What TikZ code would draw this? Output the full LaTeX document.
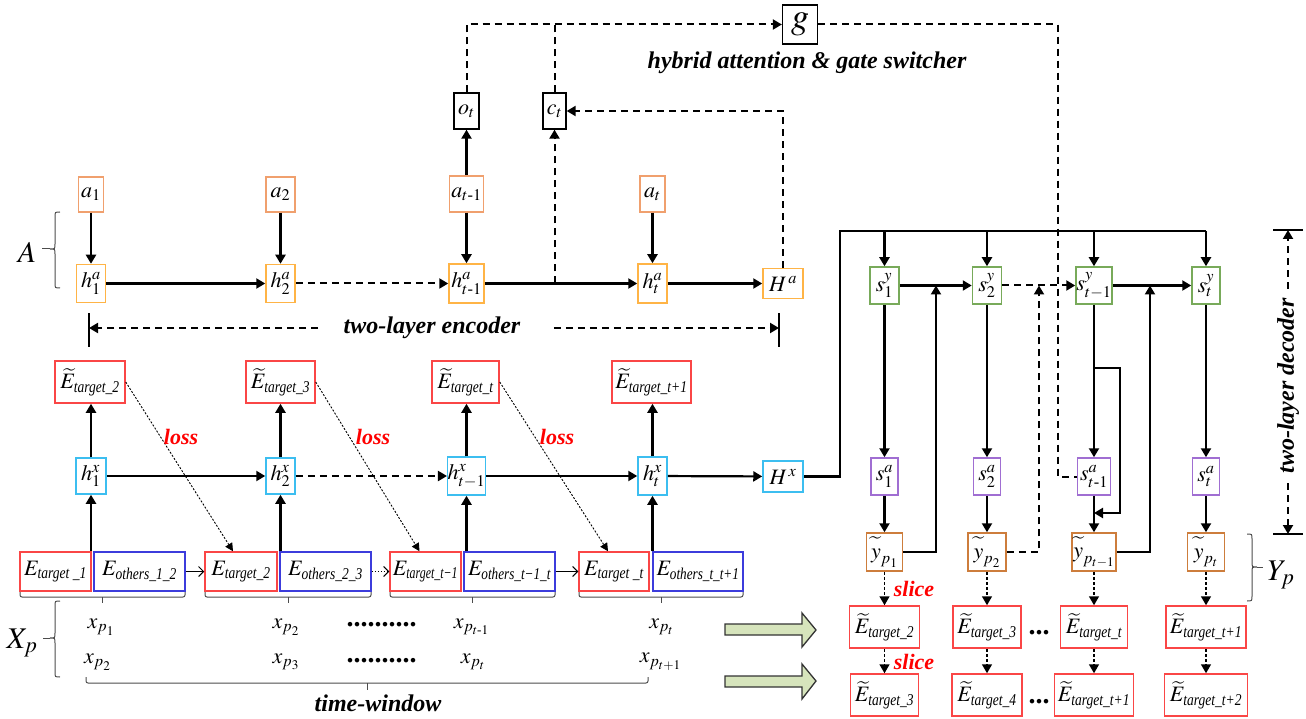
\documentclass[tikz,border=0pt]{standalone}
\usepackage{amsmath}
\usepackage{mathptmx}
\usepackage[no-math]{fontspec}
\setmainfont{Liberation Serif}
\usetikzlibrary{arrows.meta}
\definecolor{cA}{RGB}{240,160,110}
\definecolor{cH}{RGB}{255,180,70}
\definecolor{cX}{RGB}{60,190,240}
\definecolor{cR}{RGB}{250,70,70}
\definecolor{cB}{RGB}{60,60,220}
\definecolor{cSy}{RGB}{120,170,90}
\definecolor{cSa}{RGB}{160,110,210}
\definecolor{cY}{RGB}{205,125,60}
\definecolor{cG}{RGB}{214,228,188}
\definecolor{lossred}{RGB}{255,0,0}
\newcommand\nfont{\fontsize{22}{26}\selectfont}
\newcommand\gfont{\fontsize{36}{40}\selectfont}
\newcommand\bigfont{\fontsize{30}{34}\selectfont}
\newcommand\lfont{\fontsize{24}{28}\selectfont\bfseries\itshape}
\newcommand\rfont{\fontsize{22}{26}\selectfont\bfseries\itshape}
\newcommand\dfont{\fontsize{28}{30}\selectfont\bfseries}
\newcommand\tsub[2][0.82]{\text{\fontsize{16.5}{17}\selectfont\itshape\scalebox{#1}[1]{#2}}}
\newcommand\ty{\widetilde{y\vphantom{h}}}
\begin{document}
\begin{tikzpicture}[x=1pt,y=-1pt,
  bx/.style={draw,line width=1.5pt,inner sep=0pt,font=\nfont},
  abx/.style={bx,draw=cA},
  hbx/.style={bx,draw=cH},
  xbx/.style={bx,draw=cX},
  rbx/.style={bx,draw=cR},
  bbx/.style={bx,draw=cB},
  sybx/.style={bx,draw=cSy},
  sabx/.style={bx,draw=cSa},
  ybx/.style={bx,draw=cY},
  kbx/.style={bx,draw=black,line width=1.3pt},
  sz/.style 2 args={minimum width=#1pt,minimum height=#2pt},
  ln/.style={line width=2.2pt},
  arr/.style={ln,-{Triangle[length=9pt,width=10pt]}},
  dl/.style={line width=2pt,dash pattern=on 7pt off 5pt},
  darr/.style={dl,-{Triangle[length=9pt,width=10pt]}},
  lossarr/.style={line width=0.9pt,dash pattern=on 2pt off 1.6pt,-{Triangle[length=8pt,width=8pt]}},
  sarr/.style={line width=1.5pt,dash pattern=on 3pt off 2pt,-{Triangle[length=9pt,width=10pt]}},
  thinarr/.style={line width=1pt,-{Straight Barb[length=5pt,width=10pt]}},
  brc/.style={line width=1pt,draw=black!70},
  lab/.style={font=\lfont},
  redlab/.style={font=\rfont,text=lossred},
  mlab/.style={font=\nfont},
]
\useasboundingbox (0,0) rectangle (1306,719);

% ---------- top: gate ----------
\node[kbx,sz={35}{39},font=\gfont] (g) at (800,24.5) {$g$};
\node[lab] (hyb) at (807,63) {hybrid attention \& gate switcher};
\node[kbx,sz={25}{36}] (ot) at (466.5,111) {$o_t$};
\node[kbx,sz={23}{36}] (ct) at (554.5,111) {$c_t$};

% ---------- attention encoder ----------
\node[abx,sz={25}{35}] (a1) at (91,194.5) {$a_1$};
\node[abx,sz={29}{35}] (a2) at (280.5,194.5) {$a_2$};
\node[abx,sz={34}{36}] (a3) at (466.5,194) {$a_{t\text{-}1}$};
\node[abx,sz={25}{36}] (a4) at (652.5,194) {$a_t$};
\node[hbx,sz={29}{38}] (ha1) at (91,283.5) {$h^a_1$};
\node[hbx,sz={29}{38}] (ha2) at (280.5,283.5) {$h^a_2$};
\node[hbx,sz={35}{39}] (ha3) at (466.5,283.5) {$h^a_{t\text{-}1}$};
\node[hbx,sz={29}{39}] (ha4) at (652.5,283.5) {$h^a_t$};
\node[hbx,sz={40}{30}] (Ha) at (783,283.5) {$H^{\,a}$};

\draw[arr] (a1) -- (ha1);
\draw[arr] (a2) -- (ha2);
\draw[arr] (a3) -- (ha3);
\draw[arr] (a4) -- (ha4);
\draw[arr] (a3.north) -- (ot.south);
\draw[arr] (ha1) -- (ha2);
\draw[darr] (ha2) -- (ha3);
\draw[arr] (ha3) -- (ha4);
\draw[arr] (ha4) -- (Ha);
\coordinate (j1) at (554.5,283.5);
\draw[darr] (j1) -- (ct.south);
\draw[darr] (Ha.north) |- (ct.east);
\draw[darr] (ot.north) |- (g.west);
\draw[dl] (ct.north) -- (ct.north |- g.west);

% A brace
\node[font=\bigfont] (A) at (27,252) {$A$};
\draw[brc] (60,212) .. controls (55,212) .. (55,217) -- (55,244) .. controls (55,249) .. (50,249) .. controls (55,249) .. (55,254) -- (55,283) .. controls (55,288) .. (60,288);
\draw[brc] (50,249) -- (42,249);

% encoder bracket
\node[lab] (enc) at (432,328) {two-layer encoder};
\coordinate (eb1t) at (89,313); \coordinate (eb1b) at (89,347);
\coordinate (eb2t) at (779,313); \coordinate (eb2b) at (779,347);
\draw[ln] (eb1t) -- (eb1b);
\draw[ln] (eb2t) -- (eb2b);
\draw[darr] ([xshift=-22pt]enc.west) -- (eb1t |- enc.west);
\draw[darr] ([xshift=30pt]enc.east) -- (eb2t |- enc.east);

% ---------- input encoder ----------
\node[rbx,sz={70}{42}] (Ea1) at (90,382) {$\widetilde{E}_{\tsub{target\_2}}$};
\node[rbx,sz={69}{42}] (Ea2) at (280.5,382) {$\widetilde{E}_{\tsub{target\_3}}$};
\node[rbx,sz={67}{42}] (Ea3) at (465.5,382) {$\widetilde{E}_{\tsub{target\_t}}$};
\node[rbx,sz={79}{42}] (Ea4) at (651.5,382) {$\widetilde{E}_{\tsub{target\_t+1}}$};

\node[xbx,sz={30}{36}] (hx1) at (91,476) {$h^x_1$};
\node[xbx,sz={29}{36}] (hx2) at (280.5,476) {$h^x_2$};
\node[xbx,sz={37}{38}] (hx3) at (466.5,476) {$h^x_{t-1}$};
\node[xbx,sz={29}{38}] (hx4) at (652.5,476) {$h^x_t$};
\node[xbx,sz={40}{31}] (Hx) at (783,476.5) {$H^{\,x}$};

\node[rbx,sz={71}{39}] (T1) at (55.5,571.5) {$E_{\tsub{target \_1}}$};
\node[bbx,sz={91}{39}] (O1) at (139.5,571.5) {$E_{\tsub{others\_1\_2}}$};
\node[rbx,sz={72}{39}] (T2) at (241,571.5) {$E_{\tsub{target\_2}}$};
\node[bbx,sz={91}{39}] (O2) at (325.5,571.5) {$E_{\tsub{others\_2\_3}}$};
\node[rbx,sz={71}{39}] (T3) at (425.5,571.5) {$E_{\tsub[0.72]{target\_t−1}}$};
\node[bbx,sz={91}{39}] (O3) at (509.5,571.5) {$E_{\tsub[0.8]{others\_t−1\_t}}$};
\node[rbx,sz={70}{39}] (T4) at (614,571.5) {$E_{\tsub{target \_t}}$};
\node[bbx,sz={90}{39}] (O4) at (698,571.5) {$E_{\tsub[0.8]{others\_t\_t+1}}$};

\draw[arr] (hx1.north) -- (Ea1.south -| hx1.north);
\draw[arr] (hx2.north) -- (Ea2.south -| hx2.north);
\draw[arr] (hx3.north) -- (Ea3.south -| hx3.north);
\draw[arr] (hx4.north) -- (Ea4.south -| hx4.north);
\draw[arr] (hx1.south |- T1.north) -- (hx1.south);
\draw[arr] (hx2.south |- T2.north) -- (hx2.south);
\draw[arr] (hx3.south |- T3.north) -- (hx3.south);
\draw[arr] (hx4.south |- T4.north) -- (hx4.south);
\draw[arr] (hx1) -- (hx2);
\draw[darr] (hx2) -- (hx3);
\draw[arr] (hx3) -- (hx4);
\draw[arr] (hx4) -- (Hx);

\draw[lossarr] (Ea1.east) -- ([xshift=-8pt]T2.north);
\draw[lossarr] (Ea2.east) -- ([xshift=-6pt]T3.north);
\draw[lossarr] (Ea3.east) -- ([xshift=-6pt]T4.north);
\node[redlab] (l1) at (181,437) {loss};
\node[redlab] (l2) at (373,437) {loss};
\node[redlab] (l3) at (557,437) {loss};

\draw[thinarr] (O1.east) -- (T2.west);
\draw[thinarr,dash pattern=on 1.5pt off 1.5pt] (O2.east) -- (T3.west);
\draw[thinarr] (O3.east) -- (T4.west);

% pair braces
\draw[brc,rounded corners=2pt] (20,592) -- (20,597) -- (185,597) -- (185,592);
\draw[brc] (102.5,597) -- (102.5,603);
\draw[brc,rounded corners=2pt] (205,592) -- (205,597) -- (371,597) -- (371,592);
\draw[brc] (288,597) -- (288,603);
\draw[brc,rounded corners=2pt] (390,592) -- (390,597) -- (555,597) -- (555,592);
\draw[brc] (472.5,597) -- (472.5,603);
\draw[brc,rounded corners=2pt] (579,592) -- (579,597) -- (743,597) -- (743,592);
\draw[brc] (661,597) -- (661,603);

% x rows
\node[mlab] (x11) at (101,627) {$x_{p_1}$};
\node[mlab] (x12) at (286,627) {$x_{p_2}$};
\node[font=\dfont] (dd1) at (381.5,625) {..........};
\node[mlab] (x13) at (471.5,627) {$x_{p_{t\text{-}1}}$};
\node[mlab] (x14) at (661.5,627) {$x_{p_t}$};
\node[mlab] (x21) at (97.5,662) {$x_{p_2}$};
\node[mlab] (x22) at (286,662) {$x_{p_3}$};
\node[font=\dfont] (dd2) at (381.5,661) {..........};
\node[mlab] (x23) at (473,662) {$x_{p_t}$};
\node[mlab] (x24) at (660.5,662) {$x_{p_{t+1}}$};

\node[font=\bigfont] (Xp) at (22,643) {$X_p$};
\draw[brc] (60,601) .. controls (55,601) .. (55,606) -- (55,633) .. controls (55,638) .. (50,638) .. controls (55,638) .. (55,643) -- (55,672) .. controls (55,677) .. (60,677);
\draw[brc] (50,638) -- (43,638);

\draw[brc,rounded corners=2pt] (86,677) -- (86,683) -- (648,683) -- (648,677);
\draw[brc] (367,683) -- (367,690);
\node[lab] (tw) at (378,703) {time-window};

% green arrows
\draw[fill=cG,draw=black!80,line width=1.3pt] (725,624) -- (802,624) -- (802,613) -- (816,630) -- (802,647) -- (802,635) -- (725,635) -- cycle;
\draw[fill=cG,draw=black!80,line width=1.3pt] (725,676) -- (802,676) -- (802,664) -- (816,681) -- (802,699) -- (802,687) -- (725,687) -- cycle;

% ---------- decoder ----------
\node[sybx,sz={29}{37}] (sy1) at (884.5,285.5) {$s^y_1$};
\node[sybx,sz={29}{37}] (sy2) at (987,285.5) {$s^y_2$};
\node[sybx,sz={36}{37}] (sy3) at (1094,285.5) {$s^y_{t-1}$};
\node[sybx,sz={28}{37}] (sy4) at (1206,285.5) {$s^y_t$};

\node[sabx,sz={27}{37}] (sa1) at (884.5,476.5) {$s^a_1$};
\node[sabx,sz={27}{37}] (sa2) at (987,476.5) {$s^a_2$};
\node[sabx,sz={33}{37}] (sa3) at (1094,476.5) {$s^a_{t\text{-}1}$};
\node[sabx,sz={27}{37}] (sa4) at (1206,476.5) {$s^a_t$};

\node[ybx,sz={36}{38}] (yp1) at (884.5,552) {$\ty_{p_1}$};
\node[ybx,sz={38}{38}] (yp2) at (987,552) {$\ty_{p_2}$};
\node[ybx,sz={44}{38}] (yp3) at (1094,552) {$\ty_{p_{t-1}}$};
\node[ybx,sz={37}{38}] (yp4) at (1206,552) {$\ty_{p_t}$};

\node[rbx,sz={70}{42}] (R1) at (884.5,627) {$\widetilde{E}_{\tsub{target\_2}}$};
\node[rbx,sz={68}{42}] (R2) at (987,627) {$\widetilde{E}_{\tsub{target\_3}}$};
\node[rbx,sz={67}{42}] (R3) at (1094,627) {$\widetilde{E}_{\tsub{target\_t}}$};
\node[rbx,sz={80}{42}] (R4) at (1206,627) {$\widetilde{E}_{\tsub{target\_t+1}}$};
\node[rbx,sz={68}{42}] (Q1) at (884.5,695) {$\widetilde{E}_{\tsub{target\_3}}$};
\node[rbx,sz={70}{42}] (Q2) at (987,695) {$\widetilde{E}_{\tsub{target\_4}}$};
\node[rbx,sz={79}{42}] (Q3) at (1094,695) {$\widetilde{E}_{\tsub{target\_t+1}}$};
\node[rbx,sz={83}{42}] (Q4) at (1206,695) {$\widetilde{E}_{\tsub{target\_t+2}}$};

\node[font=\dfont] (e1) at (1039,633) {...};
\node[font=\dfont] (e2) at (1039,702) {...};

% context line from H^x
\coordinate (L1) at (840,476.5);
\coordinate (L2) at (840,231);
\coordinate (L3) at (1206,231);
\draw[ln] (Hx.east) -- (L1) -- (L2) -- (L3);
\draw[arr] (sy1.north |- L2) -- (sy1.north);
\draw[arr] (sy2.north |- L2) -- (sy2.north);
\draw[arr] (sy3.north |- L2) -- (sy3.north);
\draw[arr] (L3) -- (sy4.north);

\draw[arr] (sy1) -- (sy2);
\draw[darr] (sy2) -- (sy3);
\draw[arr] (sy3) -- (sy4);

\draw[arr] (sy1) -- (sa1);
\draw[arr] (sy2) -- (sa2);
\draw[arr] (sy3) -- (sa3);
\draw[arr] (sy4) -- (sa4);
\draw[arr] (sa1) -- (yp1);
\draw[arr] (sa2) -- (yp2);
\draw[arr] (sa3) -- (yp3);
\draw[arr] (sa4) -- (yp4);

\coordinate (b1) at (1094,368);
\coordinate (b2) at (1120,368);
\coordinate (b3) at (1120,513);
\coordinate (b4) at (1094,513);
\draw[arr] (b1) -- (b2) -- (b3) -- (b4);

\coordinate (k1) at (936,285.5);
\coordinate (k2) at (1039,285.5);
\coordinate (k3) at (1150,285.5);
\draw[arr] (yp1.east) -| (k1);
\draw[darr] (yp2.east) -| (k2);
\draw[arr] (yp3.east) -| (k3);

\coordinate (gd) at (1058,476.5);
\draw[dl] (g.east) -| (gd) -- (sa3.west);

\draw[sarr] (yp1) -- (R1);
\draw[sarr] (yp2) -- (R2);
\draw[sarr] (yp3) -- (R3);
\draw[sarr] (yp4) -- (R4);
\draw[sarr] (R1) -- (Q1);
\draw[sarr] (R2) -- (Q2);
\draw[sarr] (R3) -- (Q3);
\draw[sarr] (R4) -- (Q4);
\node[redlab] (sl1) at (914,589) {slice};
\node[redlab] (sl2) at (914,662) {slice};

% Y_p brace
\node[font=\bigfont] (Yp) at (1281,575) {$Y_p$};
\draw[brc] (1247,534) .. controls (1252,534) .. (1252,539) -- (1252,562) .. controls (1252,567) .. (1257,567) .. controls (1252,567) .. (1252,572) -- (1252,596) .. controls (1252,601) .. (1247,601);
\draw[brc] (1257,567) -- (1263,567);

% decoder bracket
\node[lab,rotate=90] (dec) at (1288,386) {two-layer decoder};
\coordinate (db1a) at (1273,230); \coordinate (db1b) at (1303,230);
\coordinate (db2a) at (1273,534); \coordinate (db2b) at (1303,534);
\draw[ln] (db1a) -- (db1b);
\draw[ln] (db2a) -- (db2b);
\draw[darr] ([yshift=6pt]dec.east) -- (dec.east |- db1a);
\draw[darr] ([yshift=-6pt]dec.west) -- (dec.west |- db2a);
\end{tikzpicture}
\end{document}
